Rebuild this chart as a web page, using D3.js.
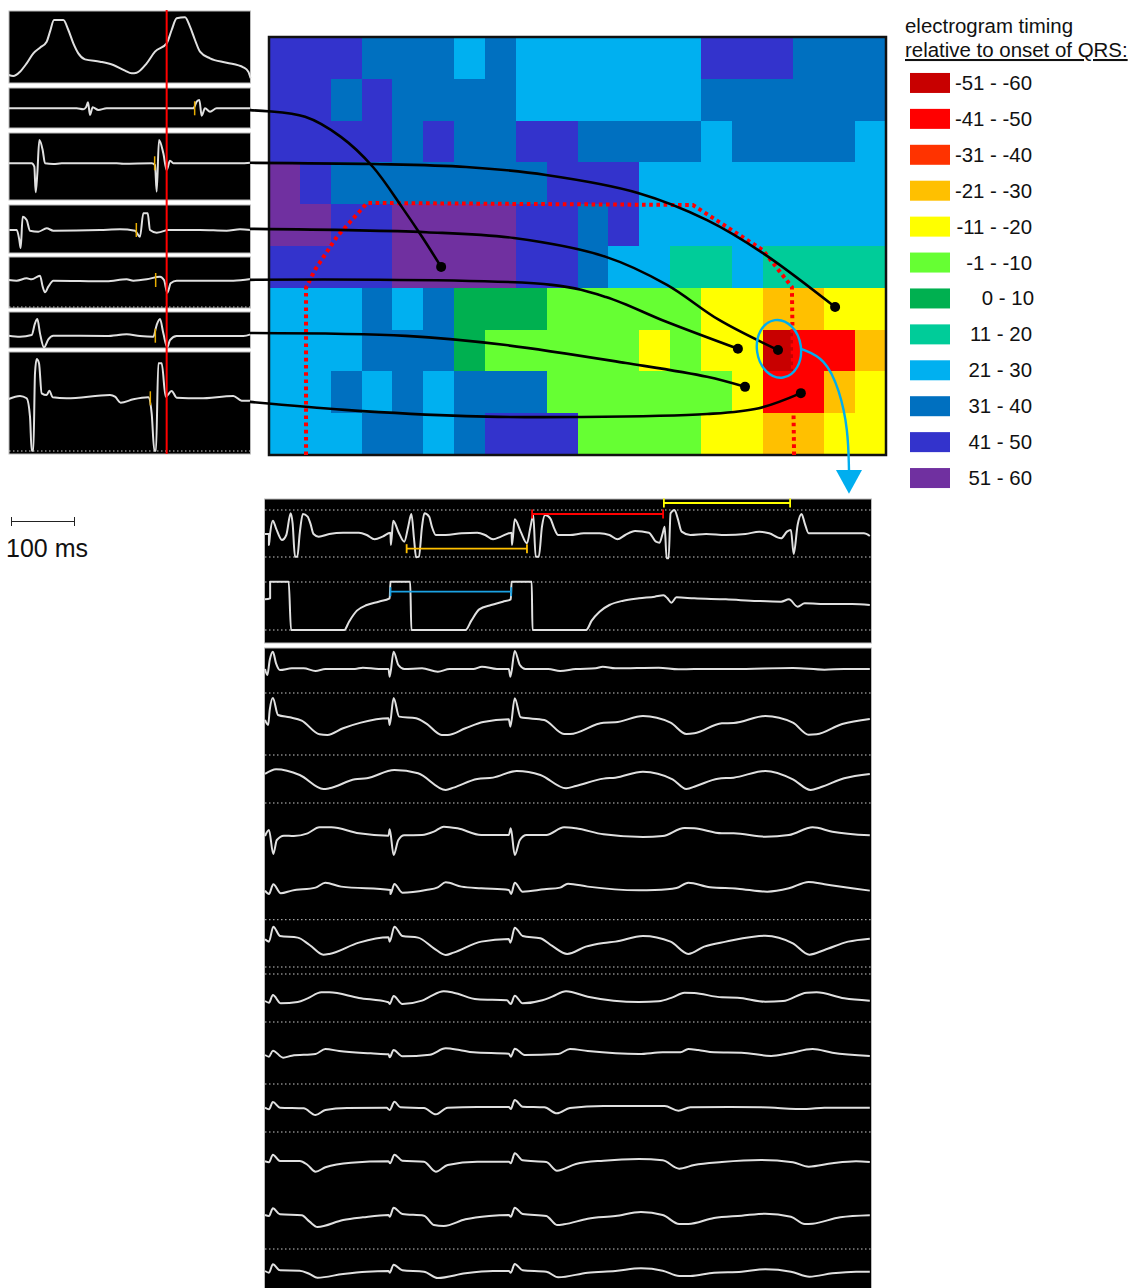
<!DOCTYPE html>
<html>
<head>
<meta charset="utf-8">
<script src="https://cdn.jsdelivr.net/npm/d3@7"></script>
<style>
  body { margin: 0; background: #fff; }
  text { font-family: "Liberation Sans", Arial, sans-serif; fill: #111; }
</style>
</head>
<body>
<div id="chart"></div>
<script>
// map bins, one letter per bin
const binCodes = ['K', 'R', 'S', 'O', 'Y', 'g', 'G', 'T', 'L', 'D', 'B', 'P'];
const binLabels = ['-51 - -60', '-41 - -50', '-31 - -40', '-21 - -30', '-11 - -20', '-1 - -10',
  '0 - 10', '11 - 20', '21 - 30', '31 - 40', '41 - 50', '51 - 60'];
const binColors = ['#c80000', '#ff0000', '#ff3300', '#ffc000', '#ffff00', '#66ff33',
  '#00b050', '#00cc99', '#00b0f0', '#0070c0', '#3333cc', '#7030a0'];

const mapRows = [
  'BBBDDDLDLLLLLLBBBDDD',
  'BBDBDDDDLLLLLLDDDDDD',
  'BBBBDBDDBBDDDDLDDDDL',
  'PBDDDDDDDBBBLLLLLLLL',
  'PPBBPPPPBBDBLLLLLLLL',
  'BBBBPPPPBBDLLTTLTTTT',
  'LLLDLDGGGgggggYYOOYY',
  'LLLDDDGgggggYgYYKRRO',
  'LLDLDLDDDggggggYRROY',
  'LLLDDLDBBBggggYYOOYY'
];

// connectors from the electrograms to the map, in column / row units
const connectors = [
  [[-0.62, 1.75], [1.17, 1.91], [2.33, 2.39], [3.37, 3.11], [4.31, 4.07], [4.96, 4.78], [5.58, 5.5]],
  [[-0.62, 3.01], [3.37, 3.04], [6.39, 3.11], [8.98, 3.3], [11.96, 3.73], [14.2, 4.38], [16.01, 5.17], [18.35, 6.46]],
  [[-0.62, 4.59], [5.09, 4.67], [7.94, 4.81], [10.92, 5.26], [12.9, 5.93], [14.59, 6.77], [16.5, 7.49]],
  [[-0.62, 5.81], [9.17, 5.93], [10.92, 6.22], [12.9, 6.82], [15.2, 7.46]],
  [[-0.62, 7.08], [4.44, 7.15], [7.68, 7.37], [11.57, 7.8], [14.2, 8.13], [15.43, 8.37]],
  [[-0.62, 8.73], [2.46, 8.92], [6.39, 9.07], [10.02, 9.09], [14.2, 9.02], [15.88, 8.88], [17.24, 8.52]]
];
const boundary = [[1.2, 10], [1.2, 6], [1.49, 5.57], [2.2, 4.78], [3.18, 3.97], [13.74, 4.02], [16.01, 5.1], [16.95, 5.98], [17.02, 10]];
const leader = [[17.24, 7.46], [18.02, 7.68], [18.5, 8.45], [18.77, 9.4], [18.8, 10.36]];

// left electrograms: [sample, amplitude]
const leftEcg = [[26,0],[40,-3],[60,10],[80,35],[100,65],[120,82],[140,100],[150,130],[162,165],[175,165],[190,165],[205,135],[220,95],[235,65],[255,47],[300,40],[340,30],[375,13],[395,5],[410,7],[440,35],[465,70],[500,95],[515,135],[530,170],[555,173],[570,145],[585,105],[600,70],[630,50],[680,37],[730,23],[745,10],[752,-10]];
const leftEgm1 = [[26,0],[230,0],[250,-3],[258,3],[264,18],[270,-20],[278,3],[295,-5],[320,0],[500,0],[580,0],[590,20],[598,25],[605,-22],[615,0],[630,-10],[650,0],[750,0]];
const leftEgm2 = [[26,0],[95,0],[103,-10],[107,-87],[112,-30],[118,70],[128,40],[135,0],[160,-2],[185,0],[350,0],[370,-1],[455,0],[465,-5],[470,-85],[477,70],[490,30],[500,-20],[510,8],[520,0],[550,0],[720,0],[752,2]];
const leftEgm3 = [[28,0],[50,0],[58,-30],[62,-54],[68,40],[80,30],[90,-2],[115,-5],[140,5],[160,-2],[300,0],[360,2],[405,-2],[420,-20],[430,50],[443,50],[450,0],[470,-8],[495,-2],[500,0],[600,0],[680,-2],[720,2],[752,0]];
const leftEgm4 = [[26,0],[50,-2],[80,5],[95,2],[120,13],[128,-20],[135,-37],[145,-20],[160,-2],[320,-4],[380,2],[400,-2],[440,2],[480,10],[492,0],[502,-38],[512,-10],[530,-2],[700,-2],[752,3]];
const leftEgm5 = [[26,0],[60,-3],[95,2],[105,37],[112,50],[120,7],[132,-35],[145,-11],[160,0],[320,-1],[380,4],[420,-1],[460,-3],[470,32],[480,50],[490,7],[502,-35],[510,-13],[530,-1],[690,-1],[730,-1],[752,4]];
const leftEgm6 = [[26,-2],[60,7],[80,0],[90,-55],[95,-157],[100,-157],[105,75],[110,118],[117,105],[125,15],[140,10],[148,23],[158,3],[200,0],[330,10],[345,5],[362,-13],[400,-3],[445,3],[455,-45],[463,-157],[468,-157],[475,105],[485,105],[497,5],[515,22],[530,2],[600,0],[700,7],[725,-7],[752,-7]];
const leftTraces = [leftEcg, leftEgm1, leftEgm2, leftEgm3, leftEgm4, leftEgm5, leftEgm6];
const timingMarks = [null, 584, 464, 409, 467, 466, 451];

// recording strips at the site in the circle
const stimEgm = [[12,0],[22,0],[22,-33],[25,2],[32,40],[40,17],[55,-18],[66,-3],[77,62],[82,32],[88,-68],[94,-68],[100,2],[108,60],[120,52],[127,32],[135,0],[148,-8],[175,0],[210,4],[250,4],[270,-3],[290,-16],[310,-8],[330,4],[331,-33],[337,40],[350,7],[365,-23],[375,22],[383,60],[390,-18],[395,-70],[402,-68],[410,22],[416,62],[428,52],[435,22],[445,-3],[470,-3],[510,2],[550,4],[570,-3],[590,-16],[610,-8],[637,4],[638,-33],[645,44],[660,7],[676,-28],[685,22],[692,57],[698,-68],[706,-68],[714,22],[722,57],[735,47],[745,17],[755,-3],[785,-3],[820,2],[860,2],[885,-3],[905,-16],[925,-3],[950,9],[985,4],[1003,-23],[1012,-26],[1020,2],[1025,22],[1030,-73],[1035,-73],[1040,62],[1050,72],[1058,47],[1068,7],[1090,-3],[1130,0],[1180,-3],[1230,0],[1265,7],[1290,2],[1320,-13],[1335,7],[1345,12],[1352,-60],[1362,27],[1372,60],[1380,32],[1390,2],[1440,2],[1500,2],[1530,2],[1545,-6]];
const stimMap = [[12,92],[25,95],[25,145],[72,145],[78,0],[213,0],[225,25],[245,58],[270,75],[300,85],[328,95],[330,145],[380,145],[383,0],[520,0],[535,28],[555,62],[585,75],[615,85],[635,92],[637,145],[688,145],[690,0],[826,0],[840,28],[860,55],[885,75],[920,88],[960,95],[1000,100],[1022,104],[1032,95],[1042,82],[1055,98],[1100,95],[1180,92],[1260,87],[1320,85],[1340,92],[1362,70],[1380,80],[1440,78],[1500,78],[1545,75]];

const lead1 = [[12,0],[18,-18],[24,27],[32,52],[40,17],[50,-3],[80,2],[110,2],[140,-6],[165,0],[240,0],[260,4],[300,0],[325,0],[328,-23],[338,52],[350,12],[365,0],[410,2],[450,-8],[480,0],[540,0],[562,7],[600,0],[630,0],[634,-23],[645,54],[658,12],[672,0],[730,0],[760,-6],[800,0],[850,2],[868,7],[900,2],[1010,4],[1060,-1],[1100,0],[1200,0],[1350,3],[1430,-2],[1480,0],[1545,0]];
const lead2 = [[12,-5],[20,-20],[24,25],[32,61],[45,10],[75,3],[105,-7],[150,-48],[170,-50],[210,-30],[255,-13],[325,0],[328,-20],[338,61],[352,5],[395,0],[420,-15],[460,-50],[475,-50],[520,-30],[565,-11],[630,-3],[634,-25],[645,60],[660,3],[720,-5],[770,-47],[785,-47],[870,-13],[900,-12],[970,7],[1040,-13],[1080,-47],[1100,-45],[1170,-15],[1200,-14],[1280,7],[1350,-13],[1390,-49],[1410,-48],[1475,-17],[1545,-2]];
const lead3 = [[12,-2],[40,12],[100,-5],[160,-47],[175,-45],[240,-18],[270,-15],[340,10],[400,0],[470,-50],[490,-43],[550,-17],[590,-13],[650,7],[710,-5],[775,-45],[800,-38],[870,-16],[900,-13],[970,5],[1045,-18],[1080,-47],[1105,-38],[1160,-16],[1200,-13],[1280,7],[1350,-18],[1395,-50],[1420,-42],[1480,-15],[1545,-2]];
const lead4 = [[12,-3],[22,15],[33,-57],[42,-15],[60,-2],[85,-3],[120,5],[150,23],[180,23],[250,5],[325,-2],[328,17],[338,-60],[350,-15],[365,-1],[410,0],[440,10],[465,25],[500,20],[560,0],[630,0],[635,20],[645,-60],[658,-15],[675,0],[725,0],[770,23],[800,20],[870,2],[970,-6],[1020,-3],[1075,21],[1100,20],[1170,5],[1200,5],[1280,-5],[1340,0],[1400,23],[1450,10],[1545,-1]];
const lead5 = [[12,-4],[22,-14],[33,15],[52,-12],[80,-4],[140,5],[165,20],[205,8],[330,-2],[330,-14],[340,16],[360,-10],[420,-2],[450,6],[470,21],[510,8],[560,3],[630,-2],[636,-14],[645,20],[665,-7],[720,0],[760,5],[780,17],[830,8],[960,-3],[1000,-2],[1055,4],[1085,20],[1140,6],[1210,2],[1285,-7],[1340,3],[1390,22],[1430,15],[1500,3],[1545,-4]];
const lead6 = [[12,-3],[22,-10],[33,35],[50,7],[95,2],[125,-20],[160,-49],[175,-47],[250,-13],[325,3],[328,-10],[340,35],[360,7],[400,2],[440,-30],[470,-50],[490,-43],[560,-10],[630,-2],[634,-13],[645,32],[665,7],[710,0],[740,-23],[778,-47],[825,-25],[870,-14],[900,-10],[970,7],[1040,-10],[1085,-47],[1125,-25],[1180,-10],[1280,8],[1350,-15],[1392,-49],[1430,-35],[1490,-10],[1545,-1]];
const lead7 = [[12,0],[22,-5],[32,18],[52,-7],[95,-3],[120,8],[155,26],[175,26],[250,9],[325,-4],[328,-9],[338,15],[360,-9],[410,1],[430,13],[465,29],[490,25],[550,5],[625,2],[635,-9],[645,16],[665,-7],[715,2],[740,13],[775,29],[830,13],[960,-3],[1010,-1],[1045,11],[1075,25],[1100,24],[1170,11],[1210,10],[1280,-2],[1325,0],[1385,25],[1410,26],[1480,8],[1545,1]];
const lead8 = [[12,-3],[22,-8],[32,10],[58,-11],[80,-5],[140,0],[165,15],[200,9],[280,2],[325,-1],[328,-10],[338,12],[360,-7],[430,-2],[470,17],[505,12],[540,5],[630,1],[635,-8],[645,16],[670,-3],[755,0],[785,15],[830,9],[960,0],[1020,5],[1065,5],[1085,15],[1110,12],[1150,5],[1220,4],[1295,-6],[1340,2],[1400,15],[1450,4],[1545,-6]];
const lead9 = [[12,0],[22,-5],[32,17],[50,0],[110,-2],[140,-22],[165,-7],[220,-1],[320,0],[328,-7],[340,18],[355,1],[415,-1],[445,-20],[475,0],[550,2],[630,2],[635,-4],[645,23],[665,3],[720,1],[752,-17],[785,-1],[870,5],[1025,5],[1060,-9],[1090,1],[1190,2],[1270,1],[1385,-4],[1430,0],[1545,0]];
const lead10 = [[12,0],[22,-3],[32,20],[50,1],[100,1],[120,-11],[140,-31],[165,-18],[230,-4],[325,0],[329,-6],[340,20],[360,2],[415,-1],[445,-31],[475,-11],[550,-1],[630,-1],[635,-6],[645,24],[665,3],[725,-2],[752,-28],[800,-8],[870,2],[960,7],[1020,3],[1062,-22],[1100,-11],[1170,-2],[1270,4],[1350,-3],[1390,-16],[1450,-6],[1510,0],[1545,-2]];
const lead11 = [[12,0],[22,-3],[32,20],[50,2],[105,-1],[125,-20],[145,-36],[210,-15],[260,-7],[325,0],[328,-5],[338,22],[360,3],[415,-2],[440,-30],[465,-33],[520,-13],[580,-3],[630,0],[635,-5],[645,22],[665,3],[725,-3],[752,-30],[770,-28],[830,-11],[900,-3],[965,9],[1020,0],[1062,-27],[1085,-27],[1150,-9],[1220,-2],[1280,4],[1345,-5],[1380,-27],[1400,-26],[1470,-7],[1545,-1]];
const lead12 = [[12,0],[22,-5],[32,20],[50,2],[100,1],[125,-9],[145,-20],[210,-9],[270,-2],[325,0],[328,-5],[338,19],[360,2],[415,-2],[450,-21],[520,-7],[590,0],[630,0],[635,-5],[645,21],[665,2],[725,-2],[755,-19],[830,-5],[900,0],[965,8],[1020,1],[1062,-15],[1090,-15],[1150,-5],[1220,-2],[1280,5],[1345,-2],[1392,-17],[1450,-7],[1510,-2],[1545,-2]];
const stripTraces = [stimEgm, stimMap, lead1, lead2, lead3, lead4, lead5, lead6, lead7, lead8, lead9, lead10, lead11, lead12];

// measured cycle lengths, in strip samples
const intervalStart = [1023, 689, 371, 330];
const intervalEnd = [1343, 1021, 676, 636];

// layout
const leftPanels = [[11, 83], [88, 128], [133, 200], [205, 253], [257, 308], [312, 348], [352, 454]];
const leftBase = [75, 108.3, 163.3, 230, 280, 335.7, 398.3];
const stripPanels = [[499, 643], [648, 1290]];
const stripBase = [534, 630, 669, 718.3, 773.3, 835, 889.3, 938.3, 1001, 1054, 1107.7, 1161.3, 1215, 1271];
const gridLines = [510, 557, 582, 630, 693, 755, 803, 919.7, 967, 974, 1022, 1084, 1132, 1249];
const intervalY = [503, 514, 548.7, 591.7];
const intervalColor = ['#ffff00', '#ff0000', '#ffc000', '#1ba1e2'];
const cyan = '#00aeef';

const svg = d3.select('#chart')
  .append('svg')
    .attr('width', 1130)
    .attr('height', 1288)
    .style('display', 'block');

// the source traces are slightly soft, as in a scanned recording
svg.append('defs')
  .append('filter')
    .attr('id', 'soft')
    .attr('x', '-2%')
    .attr('y', '-2%')
    .attr('width', '104%')
    .attr('height', '104%')
  .append('feGaussianBlur')
    .attr('stdDeviation', 0.35);

const color = d3.scaleOrdinal().domain(binCodes).range(binColors);
const colBand = d3.scaleBand().domain(d3.range(20)).range([269, 886]);
const rowBand = d3.scaleBand().domain(d3.range(10)).range([37, 455]);
const mapX = d3.scaleLinear().domain([0, 20]).range([269, 886]);
const mapY = d3.scaleLinear().domain([0, 10]).range([37, 455]);
const xLeft = d3.scaleLinear().domain([0, 780]).range([0, 260]);
const xStrip = d3.scaleLinear().domain([12, 1548]).range([265, 871]);

// amplitude is drawn at a third of a pixel per count above each baseline
function trace(x, base) {
  const y = d3.scaleLinear().domain([0, 300]).range([base, base - 100]);
  return d3.line().x(d => x(d[0])).y(d => y(d[1])).curve(d3.curveMonotoneX);
}

function drawTraces(g, data, x, bases) {
  g.append('g')
    .attr('filter', 'url(#soft)')
    .selectAll('path.trace')
    .data(data)
    .join('path')
      .attr('class', 'trace')
      .attr('d', (d, i) => trace(x, bases[i])(d))
      .attr('fill', 'none')
      .attr('stroke', '#e0e0e0')
      .attr('stroke-width', 2)
      .attr('stroke-linejoin', 'round');
}

// left electrograms
const left = svg.append('g');
left.selectAll('rect')
  .data(leftPanels)
  .join('rect')
    .attr('x', 9)
    .attr('y', d => d[0])
    .attr('width', 241.5)
    .attr('height', d => d[1] - d[0])
    .attr('fill', '#000')
    .attr('stroke', '#bbb')
    .attr('stroke-width', 1);

left.selectAll('line.floor')
  .data([307, 451])
  .join('line')
    .attr('class', 'floor')
    .attr('x1', 9)
    .attr('x2', 250)
    .attr('y1', d => d)
    .attr('y2', d => d)
    .attr('stroke', '#ccc')
    .attr('stroke-dasharray', '1.5 2.5');

drawTraces(left, leftTraces, xLeft, leftBase);

left.selectAll('line.mark')
  .data(timingMarks.map((t, i) => ({t, base: leftBase[i]})).filter(d => d.t !== null))
  .join('line')
    .attr('class', 'mark')
    .attr('x1', d => xLeft(d.t))
    .attr('x2', d => xLeft(d.t))
    .attr('y1', d => d.base - 7)
    .attr('y2', d => d.base + 7)
    .attr('stroke', '#e8ad00')
    .attr('stroke-width', 1.5);

left.append('line')
  .attr('x1', xLeft(500))
  .attr('x2', xLeft(500))
  .attr('y1', 10)
  .attr('y2', 454)
  .attr('stroke', '#ff0000')
  .attr('stroke-width', 2);

// scale bar
const scaleBar = svg.append('g').attr('stroke', '#222').attr('stroke-width', 1);
scaleBar.append('line').attr('x1', 11.5).attr('x2', 74.5).attr('y1', 521.5).attr('y2', 521.5);
scaleBar.append('line').attr('x1', 11.5).attr('x2', 11.5).attr('y1', 517).attr('y2', 526);
scaleBar.append('line').attr('x1', 74.5).attr('x2', 74.5).attr('y1', 517).attr('y2', 526);
svg.append('text').attr('x', 6).attr('y', 557).attr('font-size', 25).text('100 ms');

// timing map
const map = svg.append('g');
map.selectAll('g')
  .data(mapRows)
  .join('g')
    .attr('transform', (d, i) => 'translate(0,' + rowBand(i) + ')')
  .selectAll('rect')
  .data(d => d.split(''))
  .join('rect')
    .attr('x', (d, i) => colBand(i))
    .attr('width', colBand.bandwidth())
    .attr('height', rowBand.bandwidth())
    .attr('fill', d => color(d))
    .attr('shape-rendering', 'crispEdges');

map.append('rect')
  .attr('x', 269)
  .attr('y', 37)
  .attr('width', 617)
  .attr('height', 418)
  .attr('fill', 'none')
  .attr('stroke', '#111')
  .attr('stroke-width', 2.5);

const mapLine = d3.line().x(d => mapX(d[0])).y(d => mapY(d[1]));

map.append('path')
  .attr('d', mapLine.curve(d3.curveLinear)(boundary))
  .attr('fill', 'none')
  .attr('stroke', '#ff0000')
  .attr('stroke-width', 4)
  .attr('stroke-dasharray', '3.6 3.6');

map.selectAll('path.link')
  .data(connectors)
  .join('path')
    .attr('class', 'link')
    .attr('d', d => mapLine.curve(d3.curveCatmullRom.alpha(0.5))(d))
    .attr('fill', 'none')
    .attr('stroke', '#000')
    .attr('stroke-width', 2.6);

map.selectAll('circle')
  .data(connectors.map(d => d[d.length - 1]))
  .join('circle')
    .attr('cx', d => mapX(d[0]))
    .attr('cy', d => mapY(d[1]))
    .attr('r', 5)
    .attr('fill', '#000');

// highlighted site and the arrow down to its recordings
map.append('ellipse')
  .attr('cx', 0)
  .attr('cy', 0)
  .attr('rx', 22)
  .attr('ry', 29)
  .attr('transform', 'translate(' + mapX(16.53) + ',' + mapY(7.46) + ') rotate(-8)')
  .attr('fill', 'none')
  .attr('stroke', cyan)
  .attr('stroke-width', 2.4);

map.append('path')
  .attr('d', mapLine.curve(d3.curveBasis)(leader))
  .attr('fill', 'none')
  .attr('stroke', cyan)
  .attr('stroke-width', 2.4);

map.append('path')
  .attr('d', d3.line()([[mapX(18.8) - 13, mapY(10.36)], [mapX(18.8) + 13, mapY(10.36)], [mapX(18.8), mapY(10.93)]]))
  .attr('fill', cyan);

// legend
const legend = svg.append('g');
const legendY = d3.scaleBand().domain(binLabels).range([65, 496]);
legend.append('text').attr('x', 905).attr('y', 33).attr('font-size', 20.45).text('electrogram timing');
legend.append('text')
  .attr('x', 905)
  .attr('y', 57)
  .attr('font-size', 20.45)
  .attr('text-decoration', 'underline')
  .text('relative to onset of QRS:');

legend.selectAll('rect')
  .data(binLabels)
  .join('rect')
    .attr('x', 910)
    .attr('y', d => legendY(d) + legendY.bandwidth() / 2 - 10)
    .attr('width', 40)
    .attr('height', 20)
    .attr('fill', (d, i) => binColors[i]);

legend.selectAll('text.bin')
  .data(binLabels)
  .join('text')
    .attr('class', 'bin')
    .attr('x', d => d === '0 - 10' ? 1034 : 1032)
    .attr('y', d => legendY(d) + legendY.bandwidth() / 2 + 7)
    .attr('text-anchor', 'end')
    .attr('font-size', 20.4)
    .text(d => d);

// recording strips
const strips = svg.append('g');
strips.selectAll('rect')
  .data(stripPanels)
  .join('rect')
    .attr('x', 264.5)
    .attr('y', d => d[0])
    .attr('width', 607)
    .attr('height', d => d[1] - d[0])
    .attr('fill', '#000')
    .attr('stroke', '#bbb')
    .attr('stroke-width', 1);

strips.selectAll('line.grid')
  .data(gridLines)
  .join('line')
    .attr('class', 'grid')
    .attr('x1', 265)
    .attr('x2', 871)
    .attr('y1', d => d)
    .attr('y2', d => d)
    .attr('stroke', '#c8c8c8')
    .attr('stroke-dasharray', '1.5 2.5');

drawTraces(strips, stripTraces, xStrip, stripBase);

const intervals = strips.selectAll('g.interval')
  .data(intervalStart.map((s, i) => ({s, e: intervalEnd[i], y: intervalY[i], c: intervalColor[i]})))
  .join('g')
    .attr('class', 'interval')
    .attr('stroke', d => d.c)
    .attr('stroke-width', 1.8);
intervals.append('line').attr('x1', d => xStrip(d.s)).attr('x2', d => xStrip(d.e)).attr('y1', d => d.y).attr('y2', d => d.y);
intervals.append('line').attr('x1', d => xStrip(d.s)).attr('x2', d => xStrip(d.s)).attr('y1', d => d.y - 4.5).attr('y2', d => d.y + 4.5);
intervals.append('line').attr('x1', d => xStrip(d.e)).attr('x2', d => xStrip(d.e)).attr('y1', d => d.y - 4.5).attr('y2', d => d.y + 4.5);
</script>
</body>
</html>
